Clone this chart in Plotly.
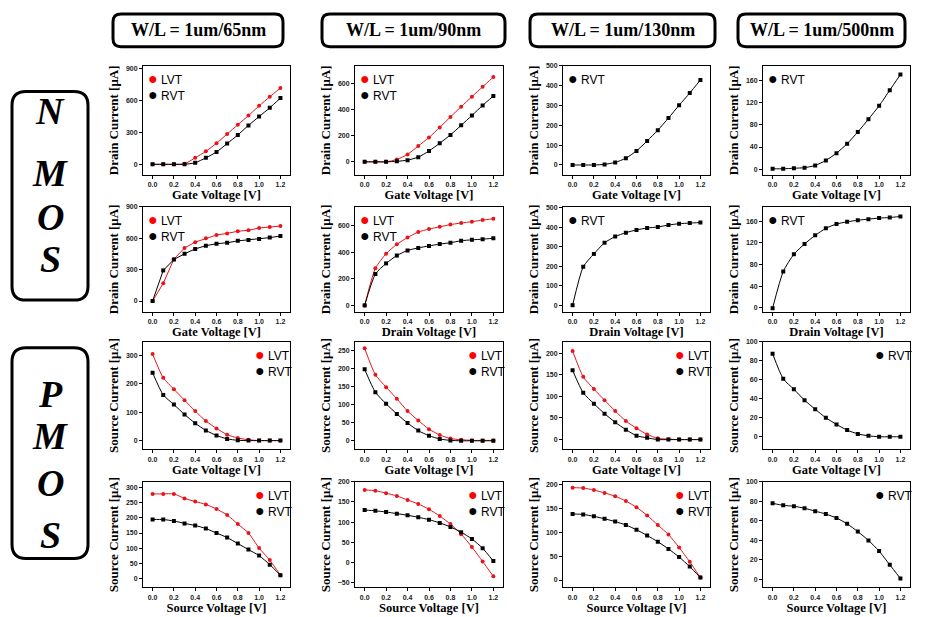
import plotly.graph_objects as go

# page is 928x617; the browser body has an 8px margin, so the figure is 920x609
PAGE_W, PAGE_H = 928, 617
OFF = 8
W, H = PAGE_W - OFF, PAGE_H - OFF

voltage = [0.0, 0.1, 0.2, 0.3, 0.4, 0.5, 0.6, 0.7, 0.8, 0.9, 1.0, 1.1, 1.2]
col_titles = ["W/L = 1um/65nm", "W/L = 1um/90nm", "W/L = 1um/130nm", "W/L = 1um/500nm"]

# NMOS  Id - Vg
n_vg_65_lvt = [0, 0, 0, 5, 61, 122, 199, 285, 373, 459, 551, 637, 719]
n_vg_65_rvt = [0, 0, 0, 0, 15, 61, 116, 196, 276, 367, 450, 533, 624]
n_vg_90_lvt = [0, 0, 0, 18, 57, 121, 186, 263, 343, 421, 498, 573, 648]
n_vg_90_rvt = [0, 0, 0, 4, 13, 36, 83, 142, 206, 279, 354, 431, 503]
n_vg_130_rvt = [0, 0, 0, 3, 13, 34, 71, 121, 175, 236, 301, 362, 428]
n_vg_500_rvt = [1, 1, 2, 3, 7, 16, 29, 46, 67, 90, 114, 142, 170]

# NMOS  Id - Vd
n_vd_65_lvt = [0, 169, 399, 507, 562, 599, 630, 645, 666, 675, 697, 706, 715]
n_vd_65_rvt = [0, 292, 396, 451, 497, 528, 547, 556, 574, 583, 593, 605, 620]
n_vd_90_lvt = [0, 280, 390, 461, 512, 554, 576, 593, 610, 622, 632, 644, 654]
n_vd_90_rvt = [0, 237, 317, 376, 415, 434, 449, 463, 473, 488, 495, 500, 507]
n_vd_130_rvt = [0, 197, 263, 320, 352, 372, 386, 396, 401, 411, 418, 421, 424]
n_vd_500_rvt = [-1, 67, 99, 118, 134, 147, 155, 159, 162, 164, 166, 167, 169]

# PMOS  Is - Vg
p_vg_65_lvt = [305, 221, 181, 142, 104, 69, 43, 21, 9, 3, 0, 0, 0]
p_vg_65_rvt = [239, 161, 127, 92, 61, 36, 18, 6, 1, 0, 0, 0, 0]
p_vg_90_lvt = [255, 182, 148, 116, 82, 56, 32, 16, 6, 3, 1, 1, 1]
p_vg_90_rvt = [197, 134, 102, 74, 49, 28, 14, 5, 1, 0, 0, 0, 0]
p_vg_130_lvt = [205, 145, 117, 91, 66, 43, 26, 12, 3, 1, 0, 0, 0]
p_vg_130_rvt = [160, 108, 83, 60, 40, 23, 9, 4, 0, 0, 0, 0, 0]
p_vg_500_rvt = [87.5, 61, 50, 38.5, 29, 20, 13, 7, 3, 1, 0, 0, 0]

# PMOS  Is - Vs
p_vs_65_lvt = [280, 280, 280, 265, 255, 245, 230, 210, 180, 150, 100, 60, 10]
p_vs_65_rvt = [195, 195, 190, 182, 175, 165, 150, 135, 115, 95, 75, 45, 10]
p_vs_90_lvt = [180, 178, 172, 165, 155, 145, 132, 115, 95, 70, 38, 2, -35]
p_vs_90_rvt = [130, 128, 125, 121, 117, 112, 106, 98, 88, 75, 58, 35, 3]
p_vs_130_lvt = [193, 192, 188, 182, 175, 165, 152, 135, 115, 95, 68, 38, 5]
p_vs_130_rvt = [138, 137, 133, 128, 122, 115, 105, 93, 80, 65, 48, 28, 5]
p_vs_500_rvt = [78, 76, 75, 73, 70, 67, 63, 57, 49, 40, 29, 15, 1]

RED = "#e8141a"
BLK = "#000000"

# page-pixel layout of the panels
col_px = [(143, 290), (355, 503), (563, 710), (763, 910)]
row_px = [(62, 172), (204, 310), (340, 448), (481, 587)]

D = "Drain Current [μA]"
S = "Source Current [μA]"
GV, DV, SV = "Gate Voltage [V]", "Drain Voltage [V]", "Source Voltage [V]"

panels = [
    # row, col, lvt, rvt, ytitle, xtitle, yrange, dtick, legend side, shape
    (0, 0, n_vg_65_lvt, n_vg_65_rvt, D, GV, [-100, 930], 300, "left", "spline"),
    (0, 1, n_vg_90_lvt, n_vg_90_rvt, D, GV, [-100, 735], 200, "left", "spline"),
    (0, 2, None, n_vg_130_rvt, D, GV, [-50, 500], 100, "left", "spline"),
    (0, 3, None, n_vg_500_rvt, D, GV, [-10, 186], 40, "left", "spline"),
    (1, 0, n_vd_65_lvt, n_vd_65_rvt, D, GV, [-105, 900], 300, "left", "linear"),
    (1, 1, n_vd_90_lvt, n_vd_90_rvt, D, DV, [-50, 745], 200, "left", "spline"),
    (1, 2, None, n_vd_130_rvt, D, DV, [-35, 505], 100, "left", "spline"),
    (1, 3, None, n_vd_500_rvt, D, DV, [-8, 187], 40, "left", "spline"),
    (2, 0, p_vg_65_lvt, p_vg_65_rvt, S, GV, [-30, 348], 100, "right", "spline"),
    (2, 1, p_vg_90_lvt, p_vg_90_rvt, S, GV, [-23, 273], 50, "right", "spline"),
    (2, 2, p_vg_130_lvt, p_vg_130_rvt, S, GV, [-22, 226], 50, "right", "spline"),
    (2, 3, None, p_vg_500_rvt, S, GV, [-13, 100], 20, "right", "spline"),
    (3, 0, p_vs_65_lvt, p_vs_65_rvt, S, SV, [-30, 320], 50, "right", "spline"),
    (3, 1, p_vs_90_lvt, p_vs_90_rvt, S, SV, [-62, 200], 50, "right", "spline"),
    (3, 2, p_vs_130_lvt, p_vs_130_rvt, S, SV, [-15, 205], 50, "right", "spline"),
    (3, 3, None, p_vs_500_rvt, S, SV, [-8, 100], 20, "right", "spline"),
]


def PX(x):
    return (x - OFF) / W


def PY(y):
    return 1 - (y - OFF) / H


fig = go.Figure()
layout = {}
annotations = []
shapes = []

tick_font = dict(family="Liberation Sans", size=7, color="#222", weight="bold")
ytitle_font = dict(family="Liberation Serif", size=13, color="#000", weight="bold")
xtitle_font = dict(family="Liberation Serif", size=12.5, color="#000", weight="bold")

for i, (r, c, lvt, rvt, yt, xt, yr, dt, side, shp) in enumerate(panels):
    n = i + 1
    xa = "x" if n == 1 else f"x{n}"
    ya = "y" if n == 1 else f"y{n}"
    xkey = "xaxis" if n == 1 else f"xaxis{n}"
    ykey = "yaxis" if n == 1 else f"yaxis{n}"
    x0, x1 = col_px[c]
    y0, y1 = row_px[r]
    common = dict(showgrid=False, zeroline=False, showline=True, linecolor="black",
                  linewidth=1, mirror=True, ticks="outside", ticklen=3,
                  tickcolor="black", tickfont=tick_font)
    layout[xkey] = dict(common, domain=[PX(x0), PX(x1)], anchor=ya,
                        range=[-0.09, 1.29], tick0=0, dtick=0.2, tickformat=".1f",
                        title=dict(text=xt, font=xtitle_font, standoff=2))
    layout[ykey] = dict(common, domain=[PY(y1), PY(y0)], anchor=xa,
                        range=yr, tick0=0, dtick=dt,
                        title=dict(text=yt, font=ytitle_font, standoff=4))
    if lvt is not None:
        fig.add_trace(go.Scatter(x=voltage, y=lvt, mode="lines+markers", xaxis=xa, yaxis=ya,
                                 line=dict(color=RED, width=1, shape=shp, smoothing=0.6),
                                 marker=dict(color=RED, size=4, symbol="circle"),
                                 showlegend=False))
    fig.add_trace(go.Scatter(x=voltage, y=rvt, mode="lines+markers", xaxis=xa, yaxis=ya,
                             line=dict(color=BLK, width=1, shape=shp, smoothing=0.6),
                             marker=dict(color=BLK, size=4, symbol="square"),
                             showlegend=False))
    # in-panel legend: one text block per panel
    lines = []
    if lvt is not None:
        lines.append("<span style='color:#ff0000;font-size:16px'>●</span> LVT")
    lines.append("<span style='color:#000000;font-size:16px'>●</span> RVT")
    if side == "left":
        ax, anc = PX(x0 + 3), "left"
    else:
        ax, anc = PX(x1 + 4), "right"
    annotations.append(dict(
        xref="paper", yref="paper", x=ax, y=PY(y0 + 2),
        xanchor=anc, yanchor="top", align="left", showarrow=False,
        text="<br>".join(lines),
        font=dict(family="Liberation Sans", size=12, color="black")))


def rounded(x0, y0, x1, y1, r):
    pts = (f"M {PX(x0 + r)},{PY(y0)} L {PX(x1 - r)},{PY(y0)} "
           f"Q {PX(x1)},{PY(y0)} {PX(x1)},{PY(y0 + r)} L {PX(x1)},{PY(y1 - r)} "
           f"Q {PX(x1)},{PY(y1)} {PX(x1 - r)},{PY(y1)} L {PX(x0 + r)},{PY(y1)} "
           f"Q {PX(x0)},{PY(y1)} {PX(x0)},{PY(y1 - r)} L {PX(x0)},{PY(y0 + r)} "
           f"Q {PX(x0)},{PY(y0)} {PX(x0 + r)},{PY(y0)} Z")
    return dict(type="path", xref="paper", yref="paper", path=pts,
                line=dict(color="black", width=3), fillcolor="rgba(0,0,0,0)")


title_boxes = [(113, 10, 283, 43), (322, 10, 505, 43), (530, 10, 715, 43), (738, 10, 905, 43)]
for (bx0, by0, bx1, by1), t in zip(title_boxes, col_titles):
    shapes.append(rounded(bx0, by0, bx1, by1, 8))
    annotations.append(dict(xref="paper", yref="paper", x=PX((bx0 + bx1) / 2), y=PY((by0 + by1) / 2),
                            xanchor="center", yanchor="middle", showarrow=False, text=t,
                            font=dict(family="Liberation Serif", size=18, color="black", weight="bold")))

side_boxes = [((12, 88, 88, 298), "NMOS", [108, 170, 214, 257]),
              ((12, 346, 88, 558), "PMOS", [393, 435, 482, 534])]
for (bx0, by0, bx1, by1), word, ys in side_boxes:
    shapes.append(rounded(bx0, by0, bx1, by1, 14))
    for ch, yy in zip(word, ys):
        annotations.append(dict(xref="paper", yref="paper", x=PX((bx0 + bx1) / 2), y=PY(yy),
                                xanchor="center", yanchor="middle", showarrow=False, text=ch,
                                font=dict(family="Liberation Serif", size=38, color="black",
                                          weight="bold", style="italic")))

fig.update_layout(**layout)
fig.update_layout(width=W, height=H, margin=dict(l=0, r=0, t=0, b=0),
                  paper_bgcolor="white", plot_bgcolor="white",
                  annotations=annotations, shapes=shapes, showlegend=False)

fig.write_html("out.html")
